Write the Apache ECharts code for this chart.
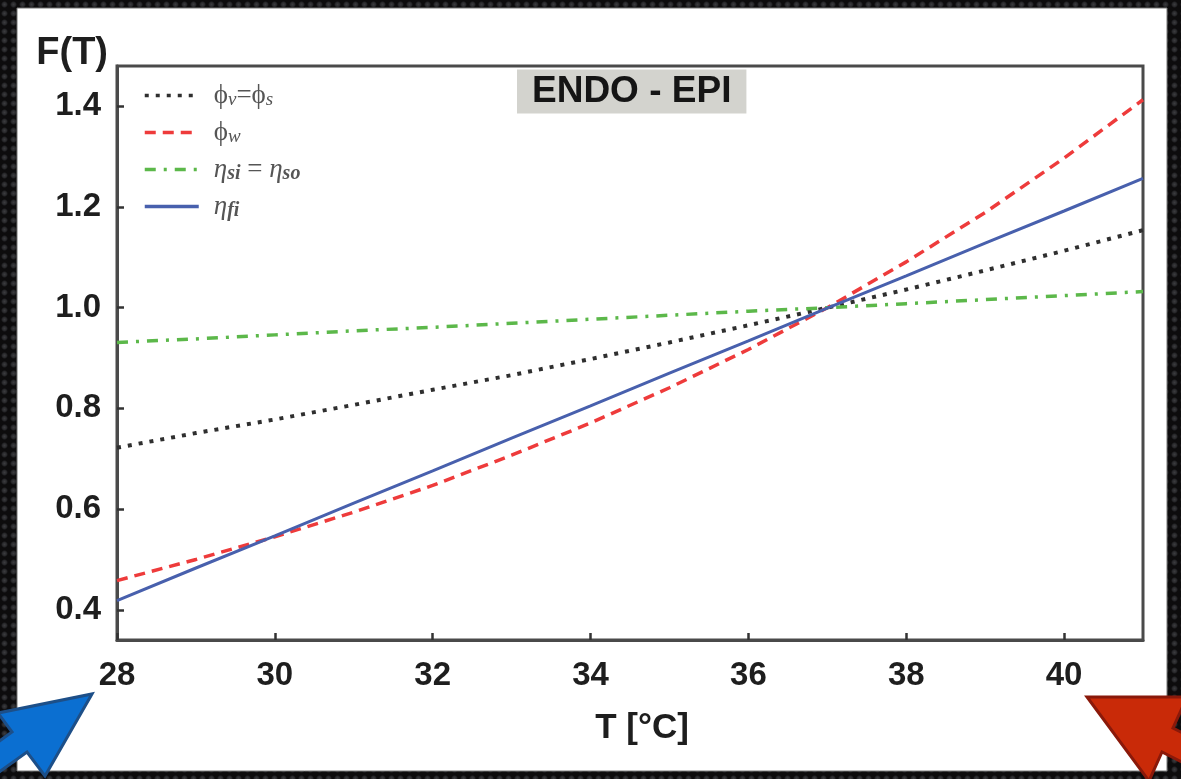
<!DOCTYPE html>
<html>
<head>
<meta charset="utf-8">
<script src="https://cdn.jsdelivr.net/npm/echarts@6/dist/echarts.min.js"></script>
<style>
  html, body { margin: 0; padding: 0; }
  body {
    width: 1181px; height: 779px; overflow: hidden;
    background-color: #0d0c0d;
    background-image: radial-gradient(circle at 50% 50%, #3b3b3e 0px, #2a2a2d 2px, rgba(0,0,0,0) 3.5px);
    background-size: 9px 9px;
  }
  #chart { width: 1181px; height: 779px; }
</style>
</head>
<body>
<div id="chart"></div>
<script>
// ---- data ----
const temps = [28, 29, 30, 31, 32, 33, 34, 35, 36, 37, 38, 39, 40, 41];
const phiVS = [0.722, 0.751, 0.778, 0.807, 0.837, 0.866, 0.898, 0.931, 0.965, 1.000, 1.036, 1.074, 1.113, 1.154];
const phiW  = [0.458, 0.500, 0.545, 0.594, 0.647, 0.707, 0.771, 0.841, 0.917, 1.000, 1.091, 1.189, 1.297, 1.413];
const etaSI = [0.931, 0.938, 0.946, 0.954, 0.961, 0.969, 0.977, 0.985, 0.993, 1.000, 1.008, 1.016, 1.024, 1.032];
const etaFI = [0.418, 0.483, 0.547, 0.612, 0.676, 0.741, 0.805, 0.870, 0.934, 0.999, 1.063, 1.128, 1.192, 1.257];
const xTicks = [28, 30, 32, 34, 36, 38, 40];
const yTicks = [0.4, 0.6, 0.8, 1.0, 1.2, 1.4];
const seriesNames = ['ϕv=ϕs', 'ϕw', 'ηsi = ηso', 'ηfi'];
const titleText = 'ENDO - EPI';

const pair = (vals) => temps.map((t, i) => [t, vals[i]]);

const legendRich = {
  'ϕv=ϕs': '{m|ϕ}{s|v}{m|=ϕ}{s|s}',
  'ϕw': '{m|ϕ}{s|w}',
  'ηsi = ηso': '{e|η}{b|si}{m| = }{e|η}{b|so}',
  'ηfi': '{e|η}{b|fi}'
};

const chart = echarts.init(document.getElementById('chart'), null, { renderer: 'canvas' });

const axisFont = { fontFamily: 'Liberation Sans, Arial, sans-serif', fontWeight: 'bold', color: '#1e1e1e' };
const serif = 'Liberation Serif, Times New Roman, serif';

const option = {
  backgroundColor: 'transparent',
  animation: false,
  title: {
    text: titleText,
    left: 517, top: 70,
    backgroundColor: '#d3d3ce',
    padding: [4, 15, 3, 15],
    textStyle: { fontFamily: 'Liberation Sans, Arial, sans-serif', fontWeight: 'bold', fontSize: 37, lineHeight: 36, color: '#151515' }
  },
  graphic: [
    { type: 'rect', z: -10, shape: { x: 17, y: 8, width: 1150, height: 763 }, style: { fill: '#ffffff', stroke: '#777', lineWidth: 1 } },
    { type: 'polygon', z: 100,
      shape: { points: [[92, 694], [45, 776], [27, 752], [-22, 787], [-37, 767], [12, 732], [-2, 713]] },
      style: { fill: '#0b6fd1', stroke: '#1d4f88', lineWidth: 3, lineJoin: 'miter' } },
    { type: 'polygon', z: 100,
      shape: { points: [[1087, 697], [1187, 697], [1173, 728], [1226, 755], [1215, 779], [1162, 752], [1149, 781]] },
      style: { fill: '#c92a08', stroke: '#8a190a', lineWidth: 3, lineJoin: 'miter' } }
  ],
  grid: {
    left: 117, top: 66, right: 38, bottom: 139,
    show: true, borderColor: '#4a4a4a', borderWidth: 3, backgroundColor: 'transparent'
  },
  legend: {
    orient: 'vertical',
    left: 143, top: 82,
    padding: 0,
    itemWidth: 54, itemHeight: 14, itemGap: 9.5,
    data: seriesNames,
    itemStyle: { opacity: 0, color: 'rgba(0,0,0,0)', borderWidth: 0 },
    lineStyle: { width: 3.5 },
    formatter: (name) => legendRich[name],
    textStyle: {
      padding: [0, 0, 0, 10],
      rich: {
        m: { fontFamily: serif, fontSize: 27, lineHeight: 28, color: '#555' },
        e: { fontFamily: serif, fontStyle: 'italic', fontSize: 27, lineHeight: 28, color: '#555' },
        s: { fontFamily: serif, fontStyle: 'italic', fontSize: 19, color: '#555', verticalAlign: 'bottom' },
        b: { fontFamily: serif, fontStyle: 'italic', fontWeight: 'bold', fontSize: 20, color: '#555', verticalAlign: 'bottom' }
      }
    }
  },
  xAxis: {
    type: 'value',
    min: 28, max: 41,
    name: 'T [°C]',
    nameLocation: 'middle',
    nameGap: 71,
    nameTextStyle: { ...axisFont, fontSize: 35, padding: [0, 0, 0, 24] },
    axisLine: { show: true, onZero: false, lineStyle: { color: '#4a4a4a', width: 3 } },
    axisTick: { show: true, inside: true, length: 7, lineStyle: { color: '#333', width: 2.5 }, customValues: xTicks },
    axisLabel: { ...axisFont, fontSize: 33, margin: 19, customValues: xTicks, formatter: (v) => String(v) },
    splitLine: { show: false }
  },
  yAxis: {
    type: 'value',
    min: 0.34, max: 1.48,
    name: 'F(T)',
    nameLocation: 'end',
    nameGap: -7,
    nameTextStyle: { ...axisFont, fontSize: 38, align: 'right', verticalAlign: 'bottom', padding: [0, 9, 0, 0] },
    axisLine: { show: true, onZero: false, lineStyle: { color: '#4a4a4a', width: 3 } },
    axisTick: { show: true, inside: true, length: 7, lineStyle: { color: '#333', width: 2.5 }, customValues: yTicks },
    axisLabel: { ...axisFont, fontSize: 33, margin: 16, customValues: yTicks, formatter: (v) => v.toFixed(1) },
    splitLine: { show: false }
  },
  series: [
    { name: seriesNames[0], type: 'line', data: pair(phiVS), symbol: 'none',
      lineStyle: { color: '#2f2f2f', width: 4, type: [4, 7] }, itemStyle: { color: '#2f2f2f' } },
    { name: seriesNames[1], type: 'line', data: pair(phiW), symbol: 'none',
      lineStyle: { color: '#ee3b3b', width: 3.5, type: [11, 7] }, itemStyle: { color: '#ee3b3b' } },
    { name: seriesNames[2], type: 'line', data: pair(etaSI), symbol: 'none',
      lineStyle: { color: '#5cb84a', width: 3.5, type: [11, 8, 3, 8] }, itemStyle: { color: '#5cb84a' } },
    { name: seriesNames[3], type: 'line', data: pair(etaFI), symbol: 'none',
      lineStyle: { color: '#4860ad', width: 3, type: 'solid' }, itemStyle: { color: '#4860ad' } }
  ]
};
chart.setOption(option);
</script>
</body>
</html>
